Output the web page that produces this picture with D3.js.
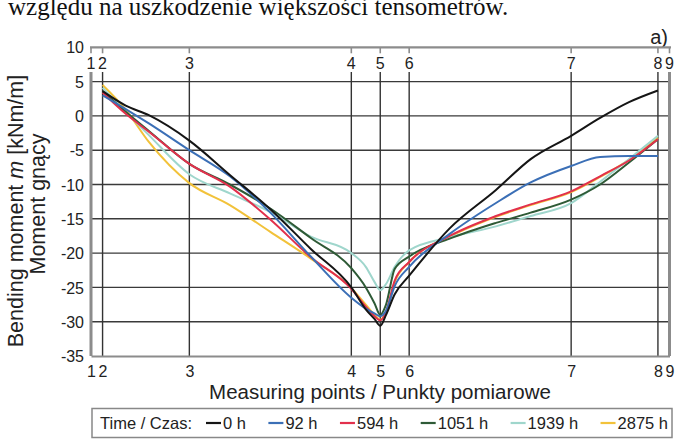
<!DOCTYPE html>
<html><head><meta charset="utf-8">
<script src="https://cdn.jsdelivr.net/npm/d3@7"></script>
<style>
html,body{margin:0;padding:0;background:#fff;}
svg{display:block;}
text{font-family:"Liberation Sans",Arial,sans-serif;fill:#222;}
</style></head>
<body><svg id="c" width="677" height="441"></svg>
<script>
// ---- data ----
const pointLabels = ["1","2","3","4","5","6","7","8","9"];
const pointPos    = [0, 0.2, 1.7, 4.5, 5.0, 5.5, 8.3, 9.8, 10];
const yTicks      = [10, 5, 0, -5, -10, -15, -20, -25, -30, -35];
const samplePos   = [0.2,0.6,1.0,1.7,2.4,3.1,3.8,4.5,4.75,4.9,5.0,5.1,5.25,5.5,6.2,7.0,7.6,8.3,8.8,9.3,9.8];
const seriesNames = ["0 h","92 h","594 h","1051 h","1939 h","2875 h"];
const m0h    = [3.6, 1.5, 0.1, -3.6, -8.6, -13.6, -19.4, -25.0, -28.2, -29.6, -30.6, -29.0, -26.0, -23.3, -16.4, -10.8, -6.3, -2.9, -0.3, 2.0, 3.7];
const m92h   = [3.0, 1.0, -1.1, -5.0, -8.8, -14.1, -20.5, -26.5, -28.1, -28.8, -29.2, -28.4, -24.8, -22.0, -17.2, -12.7, -9.7, -7.3, -6.0, -5.85, -5.85];
const m594h  = [3.4, 0.3, -2.3, -7.0, -10.3, -15.1, -20.6, -25.2, -27.8, -29.2, -29.8, -28.6, -24.0, -21.3, -17.5, -14.6, -12.9, -11.0, -8.8, -6.5, -3.4];
const m1051h = [3.6, 0.6, -2.2, -7.0, -10.0, -13.5, -17.8, -22.2, -25.0, -27.3, -29.0, -27.5, -22.3, -20.5, -17.9, -15.6, -14.1, -12.2, -10.0, -6.8, -3.4];
const m1939h = [4.1, 0.6, -2.8, -8.5, -11.3, -14.0, -17.6, -20.0, -22.0, -24.2, -25.4, -24.5, -22.0, -19.6, -17.7, -16.1, -14.6, -12.7, -9.6, -6.3, -2.9];
const m2875h = [4.5, 0.9, -3.8, -9.8, -13.0, -16.9, -20.8, -25.1, -27.5, -29.0, -29.7, -28.5, -24.2, -21.3, -17.6, -14.7, -13.0, -11.1, -8.9, -6.4, -3.2];
const seriesColors = ["#151515","#3b6fb6","#e2304c","#2e5a36","#9fd6cc","#f2c23a"];

const seriesValues = [m0h, m92h, m594h, m1051h, m1939h, m2875h];

// ---- layout ----
const svg = d3.select("#c");
const L = 91, R = 669.5, T = 47.3, B = 356;
const x = d3.scaleLinear().domain([0, 10]).range([L, R]);
const y = d3.scaleLinear().domain([-35, 10]).range([B, T]);
const gridTop = 72;

// top text (cropped)
svg.append("text").attr("x", 8).attr("y", 15)
  .style("font-family", "'Liberation Serif','Times New Roman',serif")
  .style("font-size", "25px").style("fill", "#111")
  .text("względu na uszkodzenie większości tensometrów.");
svg.append("text").attr("x", 668).attr("y", 44).attr("text-anchor", "end")
  .style("font-size", "20px").text("a)");

// horizontal gridlines
const g = svg.append("g");
g.selectAll(".hg").data(yTicks.filter(v => v < 10 && v > -35)).enter().append("line")
  .attr("x1", L).attr("x2", R).attr("y1", d => y(d)).attr("y2", d => y(d))
  .attr("stroke", "#3a3a3a").attr("stroke-width", 1.4);

// vertical gridlines
g.selectAll(".vg").data(pointPos).enter().append("line")
  .attr("x1", d => x(d)).attr("x2", d => x(d)).attr("y1", gridTop).attr("y2", B)
  .attr("stroke", (d, i) => (i === 0 || i === pointPos.length - 1) ? "#8c8c8c" : "#333")
  .attr("stroke-width", (d, i) => (i === 0 || i === pointPos.length - 1) ? 3 : 1.4);

// top axis
svg.append("line").attr("x1", L - 1).attr("x2", R + 1.5).attr("y1", T).attr("y2", T)
  .attr("stroke", "#8c8c8c").attr("stroke-width", 2.2);
svg.selectAll(".tt").data(pointPos).enter().append("line")
  .attr("x1", d => x(d)).attr("x2", d => x(d)).attr("y1", T).attr("y2", T + 6)
  .attr("stroke", "#8c8c8c").attr("stroke-width", 1.6);
svg.selectAll(".tl").data(pointPos).enter().append("text")
  .attr("x", d => x(d)).attr("y", 69).attr("text-anchor", "middle")
  .style("font-size", "16px").text((d, i) => pointLabels[i]);

// bottom axis
const bottomAx = d3.axisBottom(x).tickValues(pointPos).tickSize(0)
  .tickFormat((d, i) => pointLabels[i]);
const bg = svg.append("g").attr("transform", `translate(0,${B})`).call(bottomAx);
bg.select(".domain").attr("stroke", "#8c8c8c").attr("stroke-width", 2.2);
bg.selectAll("text").attr("dy", null).attr("y", 21)
  .style("font-size", "16px").style("font-family", "'Liberation Sans',Arial,sans-serif").attr("fill", "#222");

// left axis labels
const leftAx = d3.axisLeft(y).tickValues(yTicks).tickSize(0).tickFormat(d3.format("d"));
const lg = svg.append("g").attr("transform", `translate(${L - 7},0)`).call(leftAx);
lg.select(".domain").remove();
lg.selectAll("text").attr("x", 0).attr("dy", "0.35em")
  .style("font-size", "16px").style("font-family", "'Liberation Sans',Arial,sans-serif").attr("fill", "#222")
  .text(d => d < 0 ? "-" + Math.abs(d) : d);

// series
const line = d3.line().x((d, i) => x(samplePos[i])).y(d => y(d)).curve(d3.curveMonotoneX);
const order = [5, 4, 3, 2, 1, 0];
svg.append("g").selectAll("path").data(order).enter().append("path")
  .attr("d", k => line(seriesValues[k]))
  .attr("fill", "none").attr("stroke", k => seriesColors[k]).attr("stroke-width", 2);

// axis titles
const yt = svg.append("text").attr("transform", `translate(23,${211}) rotate(-90)`)
  .attr("text-anchor", "middle").style("font-size", "21.5px");
yt.append("tspan").text("Bending moment ");
yt.append("tspan").style("font-style", "italic").text("m");
yt.append("tspan").text(" [kNm/m]");
svg.append("text").attr("transform", `translate(45,${204}) rotate(-90)`)
  .attr("text-anchor", "middle").style("font-size", "21.5px").text("Moment gnący");
svg.append("text").attr("x", 380).attr("y", 399).attr("text-anchor", "middle")
  .style("font-size", "20.5px").text("Measuring points / Punkty pomiarowe");

// legend
const lgd = svg.append("g");
lgd.append("rect").attr("x", 92).attr("y", 408.5).attr("width", 580).attr("height", 29)
  .attr("fill", "#fff").attr("stroke", "#888").attr("stroke-width", 1.5);
lgd.append("text").attr("x", 100).attr("y", 429).style("font-size", "16.5px").text("Time / Czas:");
const items = seriesNames.map((nm, i) => {
  const gi = lgd.append("g");
  gi.append("line").attr("x1", 0).attr("x2", 15).attr("y1", 423).attr("y2", 423)
    .attr("stroke", seriesColors[i]).attr("stroke-width", 2.2);
  const t = gi.append("text").attr("x", 17).attr("y", 429).style("font-size", "16.5px").text(nm);
  return {gi, w: 17 + t.node().getComputedTextLength()};
});
const startX = 206, endX = 668;
const total = d3.sum(items, d => d.w);
const gap = (endX - startX - total) / (items.length - 1);
let cx = startX;
items.forEach(it => { it.gi.attr("transform", `translate(${cx},0)`); cx += it.w + gap; });
</script></body></html>
